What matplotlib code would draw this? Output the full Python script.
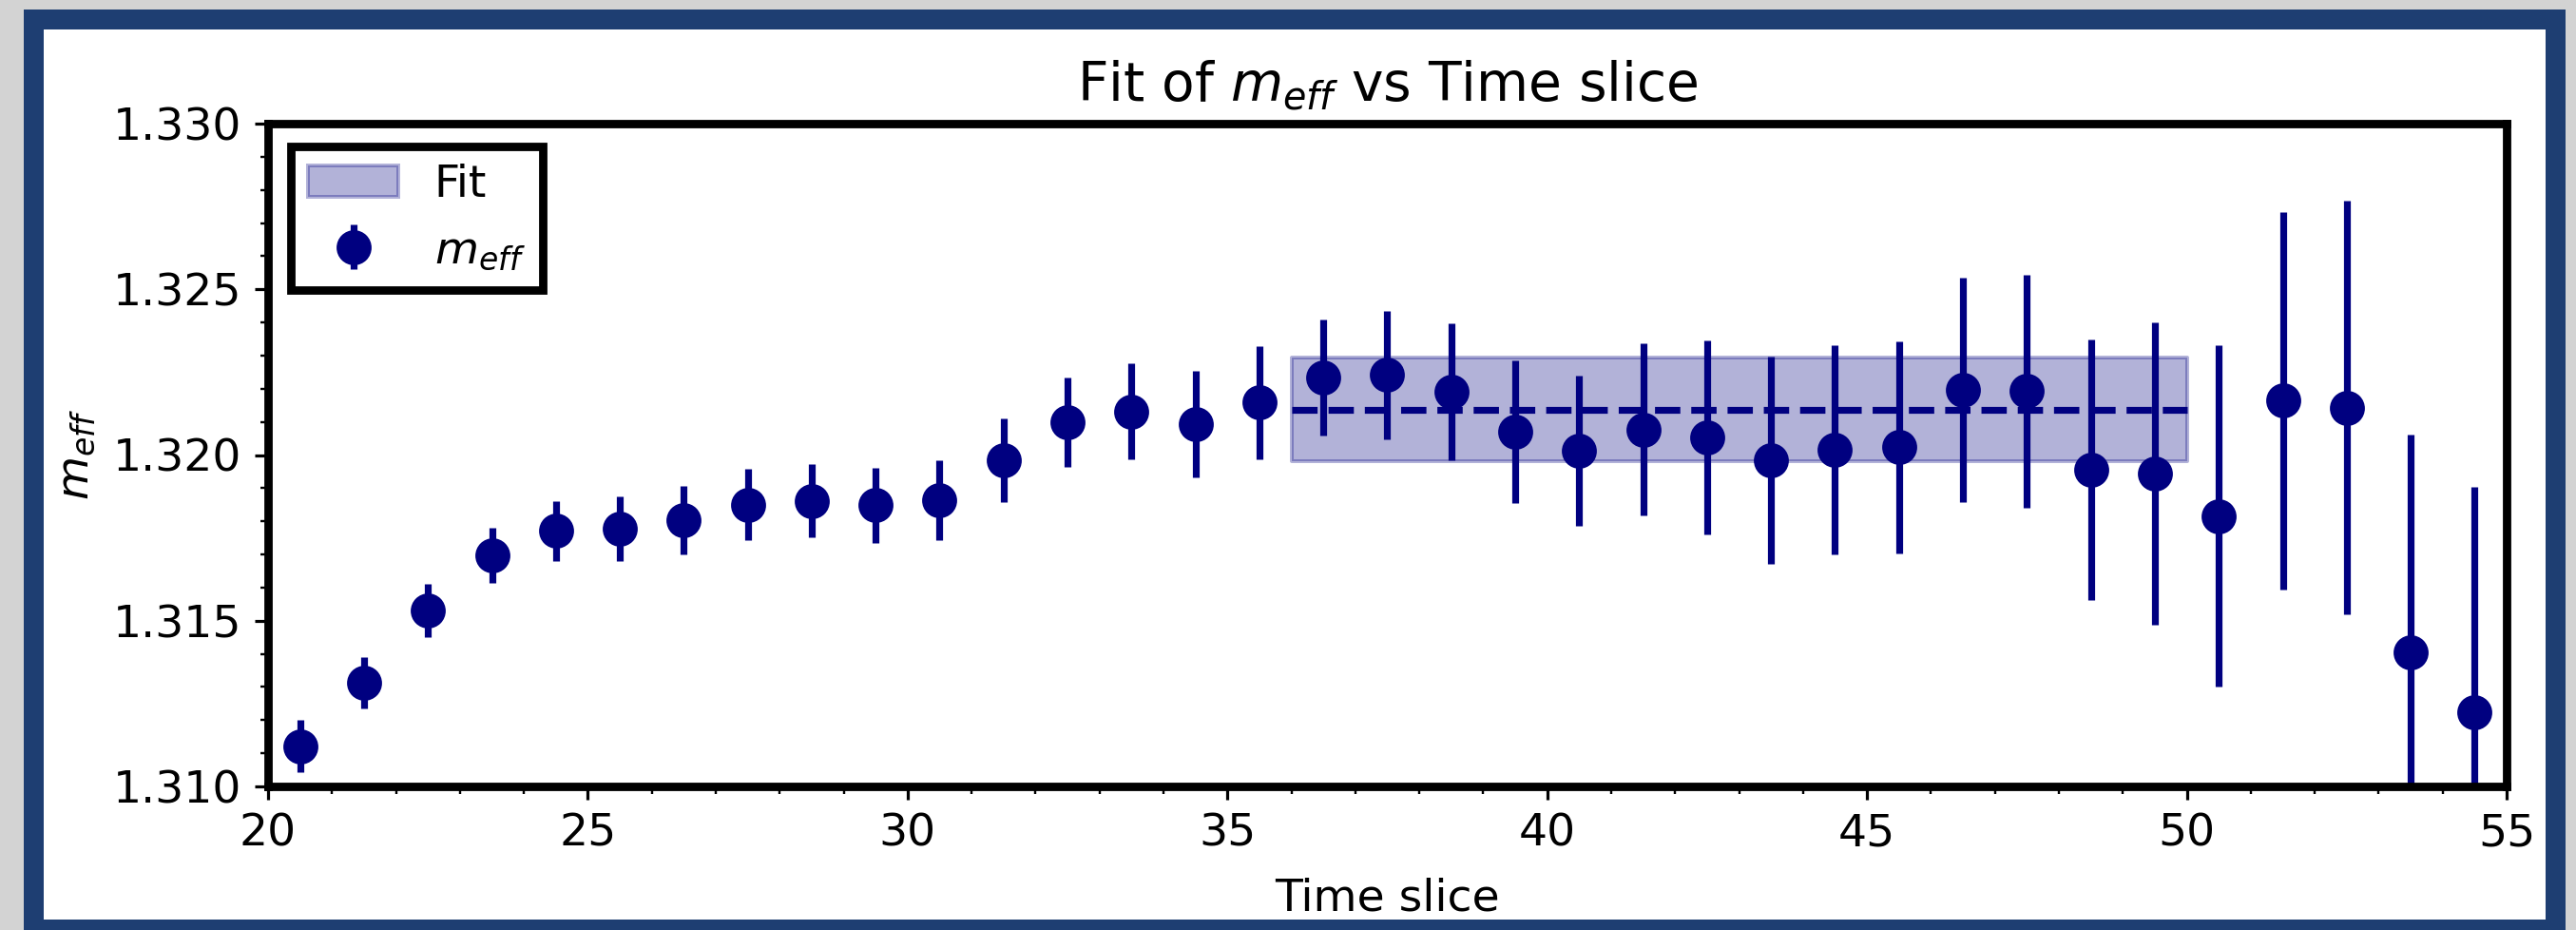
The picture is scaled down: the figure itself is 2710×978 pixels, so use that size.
import matplotlib
matplotlib.use("Agg")
import matplotlib.pyplot as plt
from matplotlib.patches import Rectangle
from matplotlib.ticker import MultipleLocator, FormatStrFormatter

# Data
time_slice = [20.5, 21.5, 22.5, 23.5, 24.5, 25.5, 26.5, 27.5, 28.5, 29.5,
              30.5, 31.5, 32.5, 33.5, 34.5, 35.5, 36.5, 37.5, 38.5, 39.5,
              40.5, 41.5, 42.5, 43.5, 44.5, 45.5, 46.5, 47.5, 48.5, 49.5,
              50.5, 51.5, 52.5, 53.5, 54.5]
m_eff = [1.31121, 1.31312, 1.31530, 1.31697, 1.31771, 1.31778, 1.31804, 1.31850,
         1.31862, 1.31849, 1.31864, 1.31984, 1.32099, 1.32131, 1.32093, 1.32158,
         1.32235, 1.32242, 1.32190, 1.32070, 1.32013, 1.32077, 1.32053, 1.31984,
         1.32015, 1.32024, 1.32197, 1.32193, 1.31956, 1.31944, 1.31815, 1.32164,
         1.32143, 1.31406, 1.31225]
m_err = [0.00079, 0.00078, 0.00080, 0.00083, 0.00090, 0.00097, 0.00103, 0.00107,
         0.00110, 0.00113, 0.00120, 0.00127, 0.00135, 0.00145, 0.00160, 0.00170,
         0.00175, 0.00194, 0.00207, 0.00215, 0.00228, 0.00260, 0.00292, 0.00312,
         0.00315, 0.00320, 0.00338, 0.00352, 0.00393, 0.00457, 0.00515, 0.00570,
         0.00625, 0.00657, 0.00678]

fit_range = [36, 50]
fit_value = 1.32137
fit_err = 0.00156

NAVY = "navy"
FRAME = "#1e3e72"
OUTER = "#d3d3d3"

W, H = 2710, 978
DPI = 288
FS = 11.8

fig = plt.figure(figsize=(W / DPI, H / DPI), dpi=DPI, facecolor=OUTER)

# blue frame + white card behind the axes
fig.patches.append(Rectangle((25 / W, -0.05), (2699 - 25) / W, 1.05 - 10 / H,
                             transform=fig.transFigure, facecolor=FRAME,
                             edgecolor="none", zorder=-3))
fig.patches.append(Rectangle((46 / W, 1 - 967 / H), (2678 - 46) / W, (967 - 31) / H,
                             transform=fig.transFigure, facecolor="white",
                             edgecolor="none", zorder=-2))

ax = fig.add_axes([282 / W, 1 - 827 / H, (2637 - 282) / W, (827 - 130) / H])

ax.fill_between(fit_range, [fit_value - fit_err] * 2, [fit_value + fit_err] * 2,
                color=NAVY, alpha=0.3, linewidth=1.0, label="Fit")
ax.plot(fit_range, [fit_value] * 2, color=NAVY, linestyle="--", linewidth=1.8)

ax.errorbar(time_slice, m_eff, yerr=m_err, fmt="o", color=NAVY,
            markersize=8.2, elinewidth=1.8, capsize=0, label="$m_{eff}$")

ax.set_xlim(20, 55)
ax.set_ylim(1.310, 1.330)
ax.xaxis.set_major_locator(MultipleLocator(5))
ax.xaxis.set_minor_locator(MultipleLocator(1))
ax.yaxis.set_major_locator(MultipleLocator(0.005))
ax.yaxis.set_minor_locator(MultipleLocator(0.001))
ax.yaxis.set_major_formatter(FormatStrFormatter("%.3f"))
ax.tick_params(labelsize=FS)

for s in ax.spines.values():
    s.set_linewidth(2.2)
    s.set_color("black")

ax.set_title("Fit of $m_{eff}$ vs Time slice", fontsize=FS * 1.2)
ax.set_xlabel("Time slice", fontsize=FS, labelpad=5.5)
ax.set_ylabel("$m_{eff}$", fontsize=FS)

leg = ax.legend(loc="upper left", fontsize=FS, fancybox=False, framealpha=1,
                edgecolor="black")
leg.get_frame().set_linewidth(2.2)

fig.savefig("out.png", dpi=DPI, facecolor=OUTER)
